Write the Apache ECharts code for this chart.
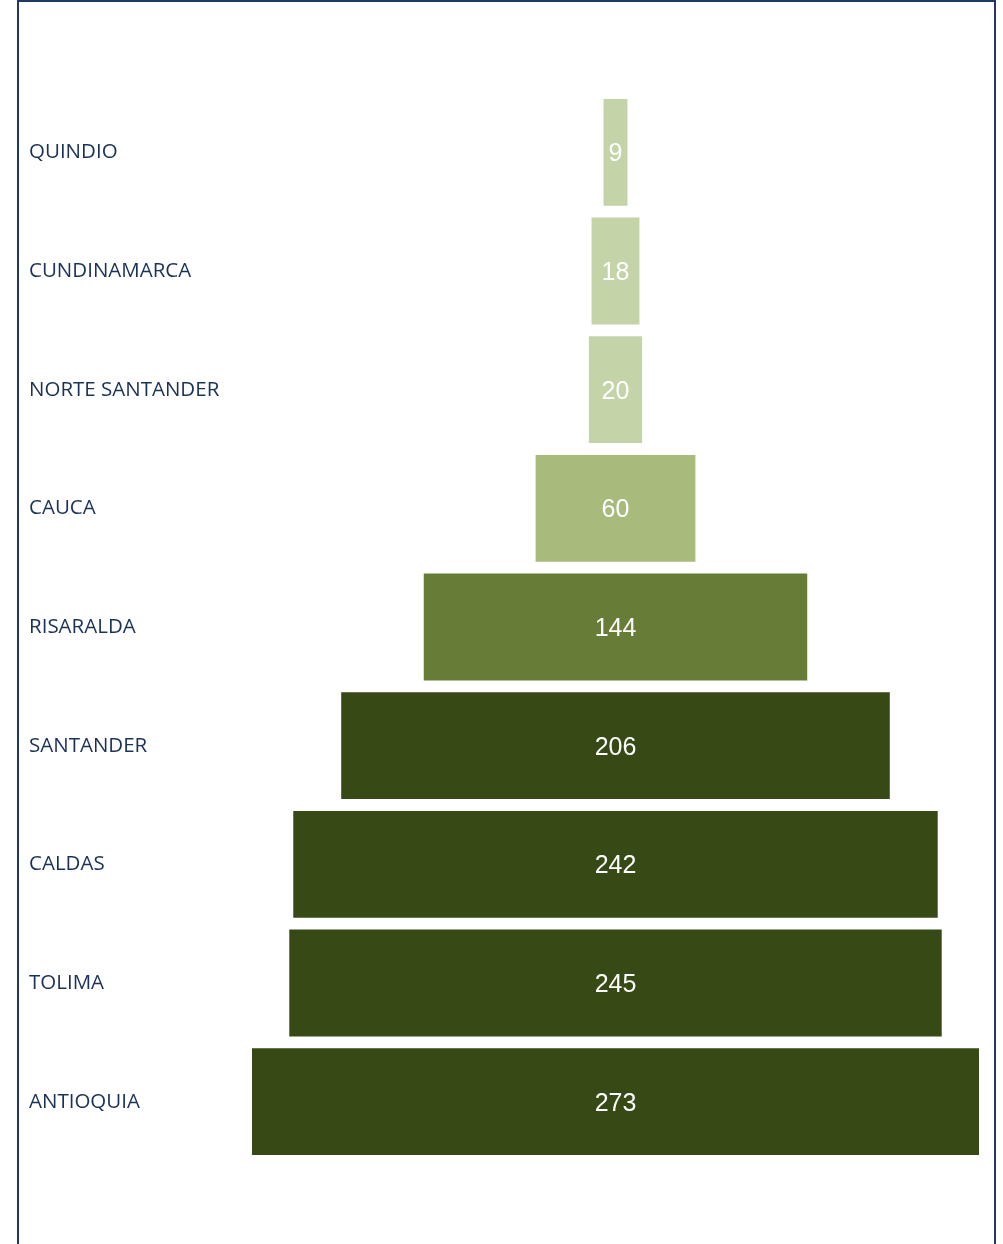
<!DOCTYPE html>
<html>
<head>
<meta charset="utf-8">
<script src="https://cdn.jsdelivr.net/npm/echarts@6/dist/echarts.min.js"></script>
<style>
html,body{margin:0;padding:0;background:#fff;}
#chart{width:1003px;height:1244px;}
</style>
</head>
<body>
<div id="chart"></div>
<script>
const categories = ['QUINDIO','CUNDINAMARCA','NORTE SANTANDER','CAUCA','RISARALDA','SANTANDER','CALDAS','TOLIMA','ANTIOQUIA'];
const values = [9, 18, 20, 60, 144, 206, 242, 245, 273];
const barColors = ['#c5d4a8','#c5d4a8','#c5d4a8','#a9ba7d','#677d37','#374915','#374915','#374915','#374915'];

const maxVal = Math.max(...values);
const offsets = values.map(v => (maxVal - v) / 2);

const chart = echarts.init(document.getElementById('chart'), null, {renderer: 'canvas'});
chart.setOption({
  animation: false,
  grid: {left: 252, right: 24, top: 93, bottom: 83, containLabel: false},
  xAxis: {type: 'value', min: 0, max: maxVal, show: false},
  yAxis: {
    type: 'category',
    data: categories,
    inverse: true,
    axisLine: {show: false},
    axisTick: {show: false},
    splitLine: {show: false},
    axisLabel: {
      align: 'left',
      margin: 223,
      color: '#1a3158',
      fontFamily: 'Open Sans',
      fontSize: 20.5,
      padding: [4, 0, 0, 0]
    }
  },
  series: [
    {
      type: 'bar',
      stack: 'f',
      silent: true,
      itemStyle: {color: 'transparent'},
      data: offsets,
      barCategoryGap: '10%'
    },
    {
      type: 'bar',
      stack: 'f',
      barCategoryGap: '10%',
      data: values.map((v, i) => ({value: v, itemStyle: {color: barColors[i]}})),
      label: {
        show: true,
        position: 'inside',
        offset: [0, 2],
        color: '#ffffff',
        fontFamily: 'Liberation Sans',
        fontSize: 25
      }
    }
  ],
  graphic: [{
    type: 'polyline',
    shape: {points: [[18, 1244], [18, 1], [995, 1], [995, 1244]]},
    style: {stroke: '#1f3864', lineWidth: 2, fill: null}
  }]
});
</script>
</body>
</html>
